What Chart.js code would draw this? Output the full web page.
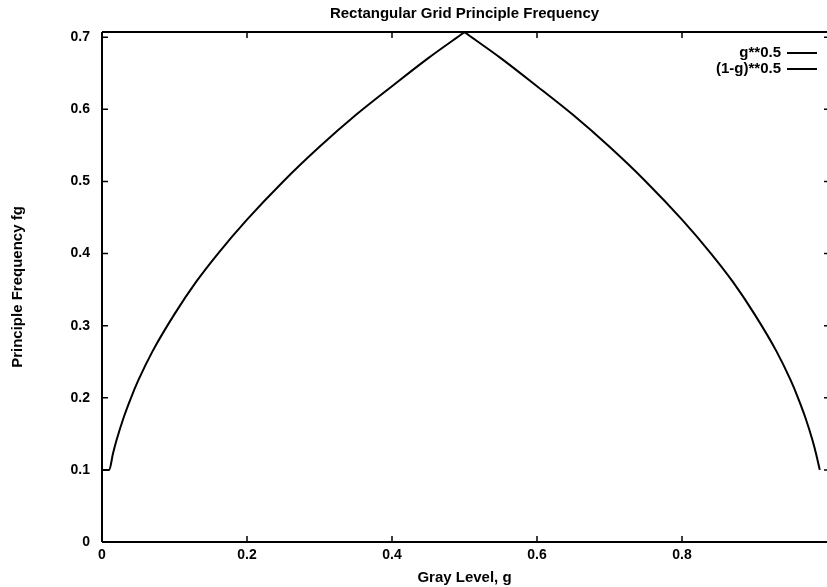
<!DOCTYPE html>
<html>
<head>
  <title>Rectangular Grid Principle Frequency</title>
  <script src="https://cdn.jsdelivr.net/npm/chart.js"></script>
  <style>
    html, body { margin: 0; padding: 0; background: #fff; overflow: hidden; }
    #chartBox { width: 827px; height: 587px; }
  </style>
</head>
<body>
  <div id="chartBox"><canvas id="freqChart"></canvas></div>

  <script>
    // values
    const leftG = [0.0, 0.01, 0.015, 0.02, 0.03, 0.04, 0.05, 0.07, 0.1, 0.13, 0.16, 0.2, 0.25, 0.3, 0.35, 0.4, 0.45, 0.5];
    const leftF = [0.1, 0.1, 0.122, 0.141, 0.173, 0.2, 0.224, 0.265, 0.316, 0.361, 0.4, 0.447, 0.5, 0.548, 0.592, 0.632, 0.671, 0.707];
    const rightG = [0.5, 0.55, 0.6, 0.65, 0.7, 0.75, 0.8, 0.84, 0.87, 0.9, 0.93, 0.95, 0.96, 0.97, 0.98, 0.985, 0.99];
    const rightF = [0.707, 0.671, 0.632, 0.592, 0.548, 0.5, 0.447, 0.4, 0.361, 0.316, 0.265, 0.224, 0.2, 0.173, 0.141, 0.122, 0.1];
    const seriesNames = ['g**0.5', '(1-g)**0.5'];
    const xTickValues = [0, 0.2, 0.4, 0.6, 0.8];
    const yTickValues = [0, 0.1, 0.2, 0.3, 0.4, 0.5, 0.6, 0.7];
    const chartTitle = 'Rectangular Grid Principle Frequency';

    const FONT = '"Liberation Sans", Arial, sans-serif';

    function toPoints(xs, ys) {
      return xs.map((x, i) => ({ x: x, y: ys[i] }));
    }

    // gnuplot-ish frame: border, inward ticks, title and legend inside the plot
    const framePlugin = {
      id: 'frame',
      afterDraw(chart) {
        const ctx = chart.ctx;
        const a = chart.chartArea;
        const xs = chart.scales.x;
        const ys = chart.scales.y;
        ctx.save();
        ctx.strokeStyle = '#000';
        ctx.lineWidth = 2;
        ctx.beginPath();
        ctx.moveTo(a.left, a.top); ctx.lineTo(a.right, a.top);
        ctx.moveTo(a.left, a.top); ctx.lineTo(a.left, a.bottom);
        ctx.moveTo(a.left, a.bottom); ctx.lineTo(a.right, a.bottom);
        ctx.stroke();

        ctx.lineWidth = 1.5;
        ctx.beginPath();
        xTickValues.forEach(v => {
          const px = xs.getPixelForValue(v);
          ctx.moveTo(px, a.bottom); ctx.lineTo(px, a.bottom - 6);
          ctx.moveTo(px, a.top); ctx.lineTo(px, a.top + 6);
        });
        yTickValues.forEach(v => {
          const py = ys.getPixelForValue(v);
          ctx.moveTo(a.left, py); ctx.lineTo(a.left + 6, py);
          ctx.moveTo(a.right, py); ctx.lineTo(a.right - 3, py);
        });
        ctx.stroke();

        ctx.fillStyle = '#000';
        ctx.font = 'bold 15px ' + FONT;
        ctx.textAlign = 'center';
        ctx.textBaseline = 'middle';
        ctx.fillText(chartTitle, (a.left + a.right) / 2, 14);

        ctx.textAlign = 'right';
        ctx.font = 'bold 15px ' + FONT;
        seriesNames.forEach((name, i) => {
          const ly = 53 + i * 16;
          ctx.fillText(name, 781, ly);
          ctx.lineWidth = 2;
          ctx.beginPath();
          ctx.moveTo(787, ly); ctx.lineTo(817, ly);
          ctx.stroke();
        });
        ctx.restore();
      }
    };

    const ctx = document.getElementById('freqChart').getContext('2d');
    new Chart(ctx, {
      type: 'scatter',
      data: {
        datasets: [
          {
            label: seriesNames[0],
            data: toPoints(leftG, leftF),
            showLine: true,
            borderColor: '#000',
            borderWidth: 2,
            pointRadius: 0,
            cubicInterpolationMode: 'monotone'
          },
          {
            label: seriesNames[1],
            data: toPoints(rightG, rightF),
            showLine: true,
            borderColor: '#000',
            borderWidth: 2,
            pointRadius: 0,
            cubicInterpolationMode: 'monotone'
          }
        ]
      },
      options: {
        responsive: true,
        maintainAspectRatio: false,
        animation: false,
        layout: { padding: { top: 32, right: 0, left: 0, bottom: 0 } },
        plugins: {
          legend: { display: false },
          tooltip: { enabled: false }
        },
        scales: {
          x: {
            type: 'linear',
            min: 0,
            max: 1,
            afterFit(scale) { scale.height = 45; },
            afterBuildTicks(scale) { scale.ticks = xTickValues.map(v => ({ value: v })); },
            grid: { display: false, drawTicks: false },
            border: { display: false },
            ticks: {
              padding: 5,
              color: '#000',
              font: { family: FONT, size: 14, weight: 'bold' },
              maxRotation: 0,
              callback: v => String(v)
            },
            title: {
              display: true,
              text: 'Gray Level, g',
              color: '#000',
              font: { family: FONT, size: 15, weight: 'bold' },
              padding: { top: 0, bottom: 0 }
            }
          },
          y: {
            type: 'linear',
            min: 0,
            max: 0.7072,
            afterFit(scale) { scale.width = 102; },
            afterBuildTicks(scale) { scale.ticks = yTickValues.map(v => ({ value: v })); },
            grid: { display: false, drawTicks: false },
            border: { display: false },
            ticks: {
              padding: 12,
              color: '#000',
              font: { family: FONT, size: 14, weight: 'bold' },
              callback: v => String(v)
            },
            title: {
              display: true,
              text: 'Principle Frequency fg',
              color: '#000',
              font: { family: FONT, size: 15, weight: 'bold' },
              padding: { top: 9, bottom: 0 }
            }
          }
        }
      },
      plugins: [framePlugin]
    });
  </script>
</body>
</html>
